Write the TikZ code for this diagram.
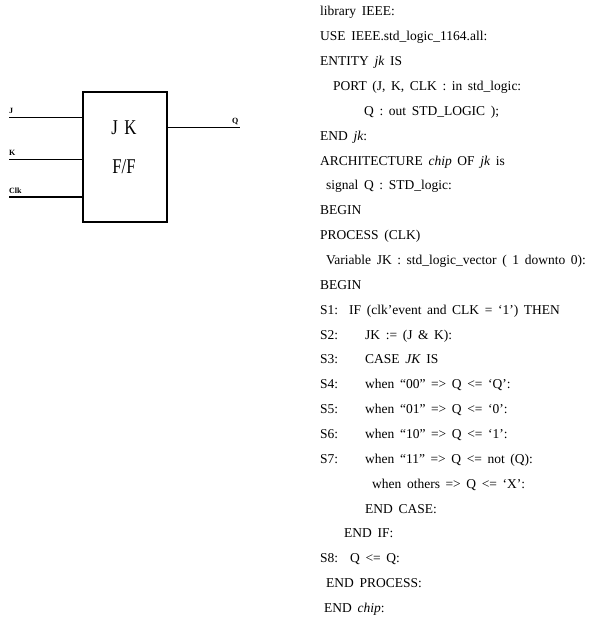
\documentclass[tikz,border=0pt]{standalone}
\usepackage{fontspec}
\setmainfont{Liberation Serif}
\newcommand{\codefont}{\fontsize{13.5}{13.5}\selectfont\spaceskip=5.6pt\relax}
\begin{document}
\begin{tikzpicture}[x=1pt,y=-1pt,
  code/.style={anchor=base west,inner sep=0pt,font=\codefont},
  pinlbl/.style={anchor=base west,inner sep=0pt,font=\fontsize{8}{8}\selectfont\bfseries},
  wire/.style={line width=0.9pt},
  thickwire/.style={line width=1.8pt},
  ffbox/.style={draw,line width=1.1pt,minimum width=84pt,minimum height=130pt,inner sep=0pt}]
\useasboundingbox (0,0) rectangle (604,628);
% flip-flop symbol
\node[ffbox] (ff) at (125,157) {};
\node[inner sep=0pt,font=\fontsize{21}{21}\selectfont] (t1) at (124,128) {\scalebox{0.8}[1]{J\hspace{8pt}K}};
\node[inner sep=0pt,font=\fontsize{21}{21}\selectfont] (t2) at (124,167) {\scalebox{0.8}[1]{F/F}};
\coordinate (jin) at (9,117);
\coordinate (kin) at (9,159);
\coordinate (cin) at (9,197);
\coordinate (qout) at (240,127);
\draw[wire] (jin) -- (jin -| ff.west);
\draw[wire] (kin) -- (kin -| ff.west);
\draw[thickwire] (cin) -- (cin -| ff.west);
\draw[wire] (qout -| ff.east) -- (qout);
\node[pinlbl] (lj) at (9,114) {J};
\node[pinlbl] (lk) at (9,156) {K};
\node[pinlbl] (lc) at (9,194) {Clk};
\node[pinlbl] (lq) at (232,124) {Q};
% code listing
\def\ls{24.85}
\node[code] (c1) at (320,16) {library IEEE:};
\node[code] (c2) at (320,16+1*\ls) {USE IEEE.std\_logic\_1164.all:};
\node[code] (c3) at (320,16+2*\ls) {ENTITY \textit{jk} IS};
\node[code] (c4) at (333,16+3*\ls) {PORT (J, K, CLK : in std\_logic:};
\node[code] (c5) at (364,16+4*\ls) {Q : out STD\_LOGIC );};
\node[code] (c6) at (320,16+5*\ls) {END \textit{jk}:};
\node[code] (c7) at (320,16+6*\ls) {ARCHITECTURE \textit{chip} OF \textit{jk} is};
\node[code] (c8) at (326,16+7*\ls) {signal Q : STD\_logic:};
\node[code] (c9) at (320,16+8*\ls) {BEGIN};
\node[code] (c10) at (320,16+9*\ls) {PROCESS (CLK)};
\node[code] (c11) at (326,16+10*\ls) {Variable JK : std\_logic\_vector ( 1 downto 0):};
\node[code] (c12) at (320,16+11*\ls) {BEGIN};
\node[code] (s1) at (320,16+12*\ls) {S1:};
\node[code] (c13) at (349,16+12*\ls) {IF (clk'event and CLK = `1') THEN};
\node[code] (s2) at (320,16+13*\ls) {S2:};
\node[code] (c14) at (365,16+13*\ls) {JK := (J \& K):};
\node[code] (s3) at (320,16+14*\ls) {S3:};
\node[code] (c15) at (365,16+14*\ls) {CASE \textit{JK} IS};
\node[code] (s4) at (320,16+15*\ls) {S4:};
\node[code] (c16) at (365,16+15*\ls) {when ``00'' => Q <= `Q':};
\node[code] (s5) at (320,16+16*\ls) {S5:};
\node[code] (c17) at (365,16+16*\ls) {when ``01'' => Q <= `0':};
\node[code] (s6) at (320,16+17*\ls) {S6:};
\node[code] (c18) at (365,16+17*\ls) {when ``10'' => Q <= `1':};
\node[code] (s7) at (320,16+18*\ls) {S7:};
\node[code] (c19) at (365,16+18*\ls) {when ``11'' => Q <= not (Q):};
\node[code] (c20) at (372,16+19*\ls) {when others => Q <= `X':};
\node[code] (c21) at (365,16+20*\ls) {END CASE:};
\node[code] (c22) at (344,16+21*\ls) {END IF:};
\node[code] (s8) at (320,16+22*\ls) {S8:};
\node[code] (c23) at (350,16+22*\ls) {Q <= Q:};
\node[code] (c24) at (326,16+23*\ls) {END PROCESS:};
\node[code] (c25) at (324,16+24*\ls) {END \textit{chip}:};
\end{tikzpicture}
\end{document}
